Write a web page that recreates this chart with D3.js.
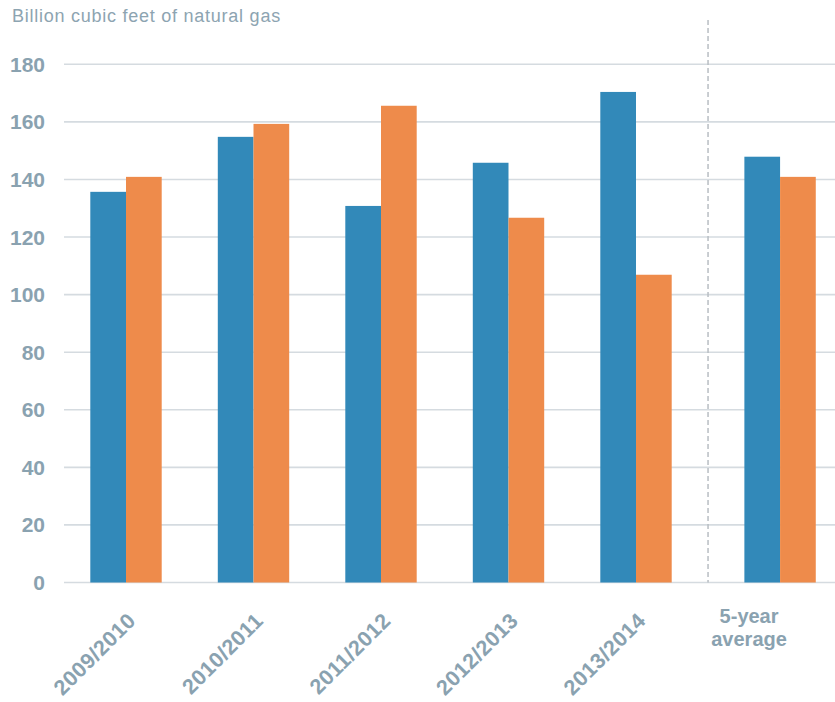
<!DOCTYPE html>
<html>
<head>
<meta charset="utf-8">
<script src="https://cdn.jsdelivr.net/npm/d3@7"></script>
<style>
  body { margin: 0; background: #fff; }
  svg { display: block; font-family: "Liberation Sans", Arial, sans-serif; }
</style>
</head>
<body>
<div id="chart"></div>
<script>
// Podatki
const categories = ["2009/2010", "2010/2011", "2011/2012", "2012/2013", "2013/2014", "5-year average"];
const slots = [0, 1, 2, 3, 4, 5.13];          // 5-year average stoji malo bolj desno
const blueValues = [135.7, 154.8, 130.8, 145.8, 170.4, 147.9];
const orangeValues = [140.9, 159.3, 165.6, 126.7, 106.9, 140.9];
const yTicks = [0, 20, 40, 60, 80, 100, 120, 140, 160, 180];

const width = 835, height = 702;
const blue = "#3289b9", orange = "#ee8b4b";
const textColor = "#8aa2b0";

const svg = d3.select("#chart").append("svg")
    .attr("width", width)
    .attr("height", height);

// Skale
const yScale = d3.scaleLinear().domain([0, 180]).range([582.5, 64.3]);
const xScale = d3.scaleLinear().domain([0, 4]).range([126, 636]);
const barW = 35.7;

// Naslov osi
svg.append("text")
    .attr("x", 12).attr("y", 22)
    .attr("font-size", "18px")
    .attr("letter-spacing", "0.75px")
    .attr("fill", "#8da4b1")
    .text("Billion cubic feet of natural gas");

// Mreža
svg.append("g").selectAll("line")
    .data(yTicks)
    .enter().append("line")
    .attr("x1", 64).attr("x2", width)
    .attr("y1", d => yScale(d)).attr("y2", d => yScale(d))
    .attr("stroke", "#d5dbe0")
    .attr("stroke-width", 1.6);

// Oznake y
svg.append("g").selectAll("text")
    .data(yTicks)
    .enter().append("text")
    .attr("x", 45)
    .attr("y", d => yScale(d) + 7.5)
    .attr("text-anchor", "end")
    .attr("font-size", "21px")
    .attr("font-weight", "bold")
    .attr("fill", textColor)
    .text(d => d);

// Črtkana ločnica
const sepX = xScale((4 + 5.13) / 2);
svg.append("line")
    .attr("x1", sepX).attr("x2", sepX)
    .attr("y1", 20).attr("y2", yScale(0))
    .attr("stroke", "#b9bec3")
    .attr("stroke-width", 1.5)
    .attr("stroke-dasharray", "5,3");

// Stolpci
svg.append("g").selectAll("rect")
    .data(blueValues)
    .enter().append("rect")
    .attr("x", (d, i) => xScale(slots[i]) - barW)
    .attr("y", d => yScale(d))
    .attr("width", barW)
    .attr("height", d => yScale(0) - yScale(d))
    .attr("fill", blue);

svg.append("g").selectAll("rect")
    .data(orangeValues)
    .enter().append("rect")
    .attr("x", (d, i) => xScale(slots[i]))
    .attr("y", d => yScale(d))
    .attr("width", barW)
    .attr("height", d => yScale(0) - yScale(d))
    .attr("fill", orange);

// Oznake x (zasukane)
svg.append("g").selectAll("text")
    .data(categories.slice(0, 5))
    .enter().append("text")
    .attr("transform", (d, i) => `translate(${xScale(slots[i]) + 11},${622}) rotate(-45)`)
    .attr("text-anchor", "end")
    .attr("font-size", "21.5px")
    .attr("font-weight", "bold")
    .attr("letter-spacing", "0.4px")
    .attr("fill", textColor)
    .text(d => d);

// 5-year average v dveh vrsticah
const avgLabel = svg.append("text")
    .attr("x", xScale(slots[5]) - 31)
    .attr("y", 623)
    .attr("text-anchor", "middle")
    .attr("font-size", "20px")
    .attr("font-weight", "bold")
    .attr("fill", textColor);
avgLabel.append("tspan").attr("x", xScale(slots[5]) - 31).text("5-year");
avgLabel.append("tspan").attr("x", xScale(slots[5]) - 31).attr("dy", 23).text("average");
</script>
</body>
</html>
